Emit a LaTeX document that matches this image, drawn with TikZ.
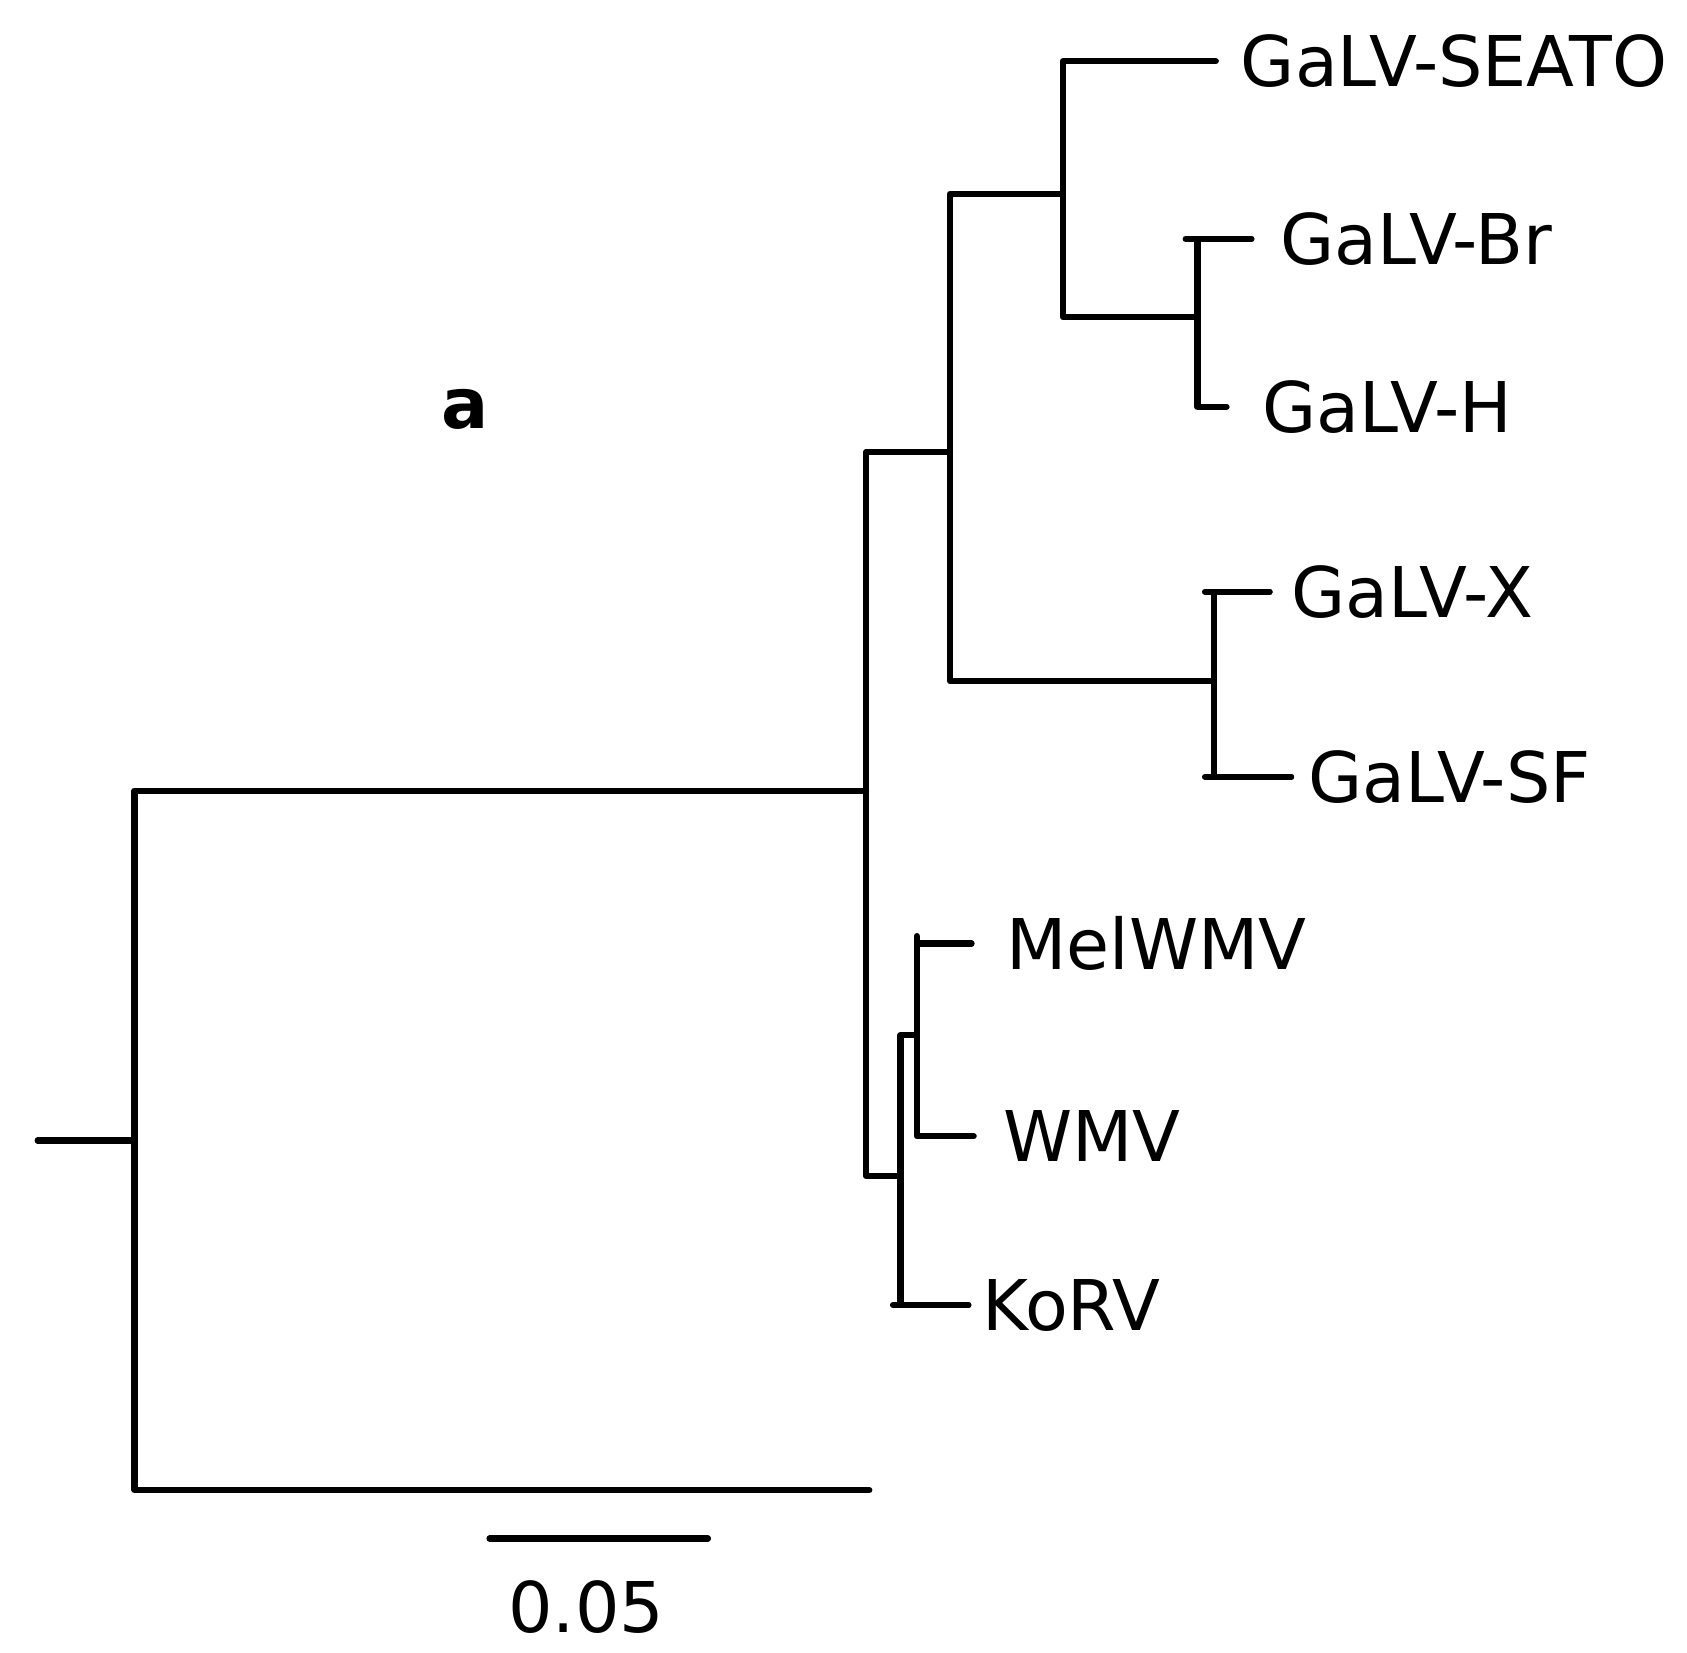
\documentclass[tikz,border=0pt]{standalone}
\usepackage{fontspec}
\setmainfont{DejaVu Sans}
\begin{document}
\begin{tikzpicture}[x=0.02cm,y=-0.02cm,
  branch/.style={line width=0.115cm,line join=round,line cap=round},
  lbl/.style={anchor=west,inner sep=0pt,text height=27pt,text depth=0pt,font=\fontsize{37}{42}\selectfont}]
\useasboundingbox (0,0) rectangle (1568,1536);
% internal nodes
\coordinate (r0) at (35,1060);
\coordinate (n0) at (125,1060);
\coordinate (og) at (808,1385);
\coordinate (n1) at (805,735);
\coordinate (n2) at (883,420);
\coordinate (n3) at (988,180);
\coordinate (n4) at (1113,295);
\coordinate (n5) at (1128,633);
\coordinate (n6) at (837,1093);
\coordinate (n7) at (852,962);
% tips
\coordinate (tSEATO) at (1130,57);
\coordinate (tBr) at (1163,222);
\coordinate (tH) at (1140,378);
\coordinate (tX) at (1180,550);
\coordinate (tSF) at (1200,722);
\coordinate (tMel) at (903,877);
\coordinate (tWMV) at (905,1056);
\coordinate (tKoRV) at (900,1213);
% ticks
\coordinate (kBr) at (1102,222);
\coordinate (kX) at (1120,550);
\coordinate (kSF) at (1120,722);
\coordinate (kKoRV) at (830,1213);
\coordinate (kMel) at (852,870);
% scale bar
\coordinate (s0) at (455,1430);
\coordinate (s1) at (658,1430);
% branches
\draw[branch] (r0) -- (n0);
\draw[branch] (og) -| (n0) |- (n1);
\draw[branch] (n2) -| (n1) |- (n6);
\draw[branch] (n3) -| (n2) |- (n5);
\draw[branch] (tSEATO) -| (n3) |- (n4);
\draw[branch] (tBr) -| (n4) |- (tH);
\draw[branch] (tX) -| (n5) |- (tSF);
\draw[branch] (n7) -| (n6) |- (tKoRV);
\draw[branch] (tMel) -| (n7) |- (tWMV);
\draw[branch] (kBr) -- (tBr);
\draw[branch] (kX) -- (tX);
\draw[branch] (kSF) -- (tSF);
\draw[branch] (kKoRV) -- (tKoRV);
\draw[branch] (kMel) -- (n7);
\draw[branch] (s0) -- (s1);
% labels
\node[lbl] (lSEATO) at (1153,57) {GaLV-SEATO};
\node[lbl] (lBr) at (1190,222) {GaLV-Br};
\node[lbl] (lH) at (1173,378) {GaLV-H};
\node[lbl] (lX) at (1200,550) {GaLV-X};
\node[lbl] (lSF) at (1216,722) {GaLV-SF};
\node[lbl] (lMel) at (935,877) {MelWMV};
\node[lbl] (lWMV) at (932,1056) {WMV};
\node[lbl] (lKoRV) at (913,1213) {KoRV};
\node[lbl,anchor=center] (lscale) at (545,1494) {0.05};
\node[lbl,anchor=center,font=\fontsize{37}{42}\selectfont\bfseries,text height=20.5pt] (la) at (432,380) {a};
\end{tikzpicture}
\end{document}
